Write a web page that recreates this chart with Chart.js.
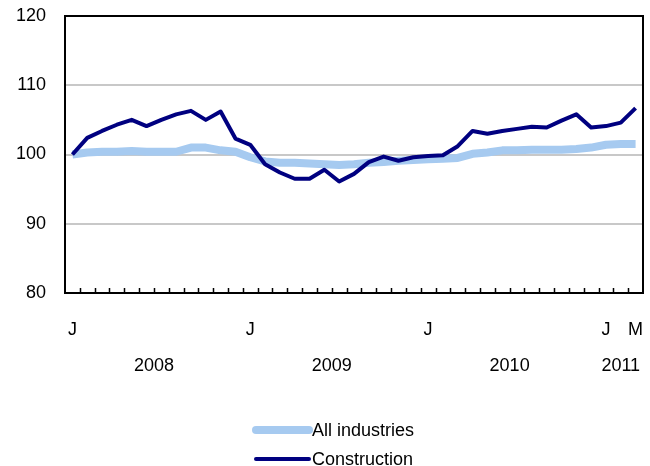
<!DOCTYPE html>
<html>
<head>
<meta charset="utf-8">
<script src="https://cdn.jsdelivr.net/npm/chart.js@4/dist/chart.umd.min.js"></script>
<style>
  html, body { margin: 0; padding: 0; background: #fff; }
  #wrap { width: 650px; height: 466px; }
</style>
</head>
<body>
<div id="wrap"><canvas id="chart" width="650" height="466"></canvas></div>
<script>
// monthly, Jan 2008 - Mar 2011 (index, Jan 2008 = 100)
const months = [
  "2008-01","2008-02","2008-03","2008-04","2008-05","2008-06","2008-07","2008-08","2008-09","2008-10","2008-11","2008-12",
  "2009-01","2009-02","2009-03","2009-04","2009-05","2009-06","2009-07","2009-08","2009-09","2009-10","2009-11","2009-12",
  "2010-01","2010-02","2010-03","2010-04","2010-05","2010-06","2010-07","2010-08","2010-09","2010-10","2010-11","2010-12",
  "2011-01","2011-02","2011-03"
];
const monthLabels = [
  "J","","","","","","","","","","","",
  "J","","","","","","","","","","","",
  "J","","","","","","","","","","","",
  "J","","M"
];
const years = ["2008", "2009", "2010", "2011"];
const yearCenters = [5.5, 17.5, 29.5, 37]; // category index where the year label sits

const allIndustries = [
  100.0, 100.3, 100.4, 100.4, 100.5, 100.4, 100.4, 100.4, 101.0, 101.0, 100.6, 100.4,
  99.6, 99.0, 98.8, 98.8, 98.7, 98.6, 98.5, 98.6, 98.8, 98.9, 99.1, 99.2,
  99.3, 99.4, 99.5, 100.1, 100.3, 100.6, 100.6, 100.7, 100.7, 100.7, 100.8, 101.0,
  101.4, 101.5, 101.5
];
const construction = [
  100.0, 102.4, 103.4, 104.3, 105.0, 104.1, 105.0, 105.8, 106.3, 105.0, 106.2, 102.3,
  101.4, 98.6, 97.4, 96.5, 96.5, 97.8, 96.1, 97.2, 98.9, 99.7, 99.1, 99.6,
  99.8, 99.9, 101.2, 103.4, 103.0, 103.4, 103.7, 104.0, 103.9, 104.9, 105.8, 103.9,
  104.1, 104.6, 106.7
];
const yTicks = [80, 90, 100, 110, 120];

const FONT = "'Liberation Sans', Arial, sans-serif";

// frame, inward month ticks, year row and legend
const extras = {
  id: "extras",
  afterDatasetsDraw(chart) {
    const { ctx, chartArea: a, scales } = chart;
    const x = scales.x;
    ctx.save();
    ctx.strokeStyle = "#000";
    ctx.lineWidth = 2;
    ctx.strokeRect(a.left, a.top, a.right - a.left, a.bottom - a.top);

    // small ticks between months, pointing up into the plot
    const step = x.getPixelForValue(1) - x.getPixelForValue(0);
    ctx.lineWidth = 1.5;
    ctx.beginPath();
    for (let i = 0; i < months.length - 1; i++) {
      const px = Math.round(x.getPixelForValue(i) + step / 2) + 0.5;
      ctx.moveTo(px, a.bottom);
      ctx.lineTo(px, a.bottom - 5);
    }
    ctx.stroke();

    ctx.fillStyle = "#000";
    ctx.font = "18px " + FONT;
    ctx.textAlign = "center";
    ctx.textBaseline = "middle";
    years.forEach((yr, k) => {
      const c = yearCenters[k];
      const lo = Math.floor(c), hi = Math.ceil(c);
      const px = (x.getPixelForValue(lo) + x.getPixelForValue(hi)) / 2;
      ctx.fillText(yr, px, 366);
    });

    // legend, stacked
    const items = [chart.data.datasets[1], chart.data.datasets[0]];
    ctx.textAlign = "left";
    items.forEach((ds, k) => {
      const y = 430 + k * 29;
      ctx.strokeStyle = ds.borderColor;
      ctx.lineWidth = ds.borderWidth;
      ctx.lineCap = "round";
      ctx.beginPath();
      ctx.moveTo(256, y);
      ctx.lineTo(309, y);
      ctx.stroke();
      ctx.fillText(ds.label, 312, y + 1);
    });
    ctx.restore();
  }
};

new Chart(document.getElementById("chart"), {
  type: "line",
  data: {
    labels: months,
    datasets: [
      {
        label: "Construction",
        data: construction,
        borderColor: "#000080",
        borderWidth: 4,
        pointRadius: 0,
        tension: 0,
        borderJoinStyle: "round",
        order: 0
      },
      {
        label: "All industries",
        data: allIndustries,
        borderColor: "#a6caf0",
        borderWidth: 8,
        pointRadius: 0,
        tension: 0,
        borderJoinStyle: "round",
        order: 1
      }
    ]
  },
  options: {
    responsive: false,
    animation: false,
    layout: { padding: { top: 16, right: 7, left: 0, bottom: 0 } },
    plugins: { legend: { display: false }, tooltip: { enabled: false } },
    scales: {
      x: {
        type: "category",
        offset: true,
        grid: { display: false, drawTicks: false },
        border: { display: false },
        ticks: {
          autoSkip: false,
          maxRotation: 0,
          padding: 26,
          color: "#000",
          font: { family: FONT, size: 18 },
          callback: (v, i) => monthLabels[i]
        },
        afterFit: (s) => { s.height = 173; s.paddingLeft = 0; s.paddingRight = 0; }
      },
      y: {
        min: 80,
        max: 120,
        afterBuildTicks: (s) => { s.ticks = yTicks.map(v => ({ value: v })); },
        grid: {
          color: (c) => (c.tick.value === 80 || c.tick.value === 120) ? "rgba(0,0,0,0)" : "#c8c8c8",
          lineWidth: 2,
          drawTicks: false
        },
        border: { display: false },
        ticks: {
          padding: 19,
          color: "#000",
          font: { family: FONT, size: 18 }
        },
        afterFit: (s) => { s.width = 65; s.paddingTop = 0; s.paddingBottom = 0; }
      }
    }
  },
  plugins: [extras]
});
</script>
</body>
</html>
